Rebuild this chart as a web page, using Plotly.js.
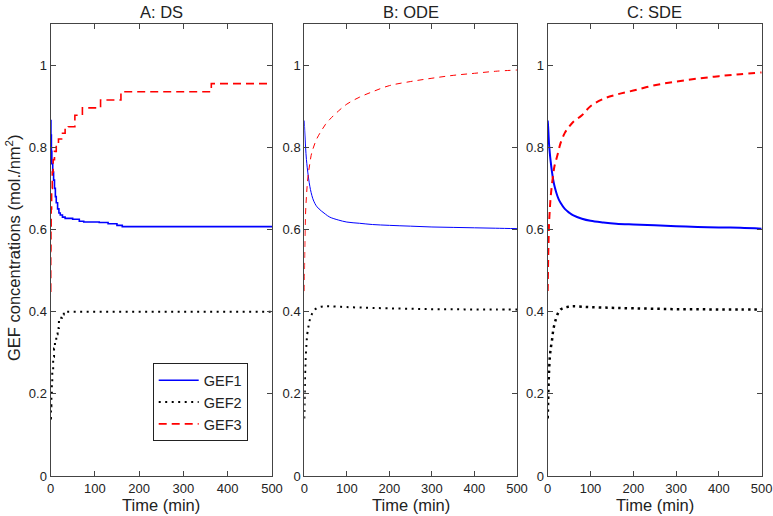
<!DOCTYPE html>
<html>
<head>
<meta charset="utf-8">
<script src="https://cdn.plot.ly/plotly-3.0.1.min.js"></script>
<style>html,body{margin:0;padding:0;background:#fff;}#chart{width:773px;height:516px;}</style>
</head>
<body>
<div id="chart"></div>
<script>
// Panel A: DS (stochastic, step-like)
var tDS1 = [0,1,2,3,5,7,9,11,13,16,19,22,27,33,50,65,75,110,130,150,162,500];
var gef1DS = [0.865,0.83,0.79,0.76,0.74,0.72,0.70,0.68,0.665,0.65,0.64,0.635,0.63,0.627,0.625,0.62,0.618,0.617,0.614,0.61,0.607,0.606];
var tDS2 = [0,1,2,3,4,6,8,10,13,16,19,22,26,30,35,500];
var gef2DS = [0.14,0.17,0.2,0.23,0.26,0.29,0.31,0.325,0.345,0.36,0.375,0.385,0.393,0.398,0.4,0.401];
var tDS3 = [0,0.5,1,1.5,2.5,4,6,9,13,18,25,33,40,55,72,113,159,363,500];
var gef3DS = [0.45,0.55,0.6,0.65,0.7,0.74,0.77,0.79,0.805,0.82,0.834,0.846,0.85,0.878,0.896,0.915,0.935,0.955,0.955];

// Panels B and C share a time grid
var tGrid = [0,1,2,3,5,7,10,13,16,20,25,30,40,50,60,80,100,130,160,200,250,300,350,400,450,500];
// Panel B: ODE
var gef1ODE = [0.865,0.84,0.82,0.80,0.77,0.75,0.725,0.705,0.69,0.675,0.663,0.655,0.645,0.637,0.63,0.623,0.618,0.615,0.612,0.61,0.608,0.606,0.605,0.604,0.603,0.602];
var gef2ODE = [0.14,0.2,0.25,0.28,0.32,0.345,0.365,0.38,0.39,0.398,0.405,0.409,0.412,0.413,0.413,0.412,0.411,0.41,0.409,0.408,0.407,0.406,0.406,0.405,0.405,0.405];
var gef3ODE = [0.45,0.54,0.6,0.64,0.68,0.71,0.74,0.76,0.78,0.795,0.81,0.822,0.84,0.856,0.868,0.888,0.905,0.922,0.935,0.95,0.96,0.968,0.975,0.98,0.985,0.988];
// Panel C: SDE
var gef1SDE = [0.865,0.85,0.83,0.81,0.785,0.765,0.74,0.72,0.705,0.69,0.675,0.665,0.65,0.641,0.634,0.626,0.621,0.617,0.614,0.612,0.61,0.608,0.606,0.605,0.604,0.602];
var gef2SDE = [0.14,0.18,0.22,0.25,0.29,0.31,0.33,0.355,0.37,0.385,0.398,0.405,0.41,0.412,0.413,0.412,0.411,0.41,0.409,0.408,0.407,0.406,0.406,0.405,0.405,0.405];
var gef3SDE = [0.45,0.52,0.57,0.61,0.65,0.68,0.71,0.735,0.755,0.77,0.79,0.81,0.835,0.85,0.862,0.878,0.9,0.918,0.928,0.938,0.951,0.96,0.967,0.973,0.978,0.982];

var panelTitles = ['A: DS','B: ODE','C: SDE'];
var seriesNames = ['GEF1','GEF2','GEF3'];
var xTicks = [0,100,200,300,400,500];
var yTicks = [0,0.2,0.4,0.6,0.8,1];

var W = 773, H = 516, plotTop = 24, plotBottom = 476;
var pan = [[50.5,272],[304.3,517],[547.7,761.7]];
var blue = '#0000ff', black = '#000000', red = '#ff0000';

function tr(x, y, name, color, dash, width, ax, legend, shape) {
  return {x: x, y: y, name: name, type: 'scatter', mode: 'lines',
    line: {color: color, dash: dash, width: width, shape: shape || 'linear'},
    xaxis: 'x' + ax, yaxis: 'y' + ax, showlegend: legend, hoverinfo: 'skip'};
}
var data = [
  tr(tDS1, gef1DS, seriesNames[0], blue, 'solid', 1.6, '', true, 'hv'),
  tr(tDS2, gef2DS, seriesNames[1], black, '2px,4.5px', 2, '', true, 'hv'),
  tr(tDS3, gef3DS, seriesNames[2], red, '8px,5px', 1.6, '', true, 'hv'),
  tr(tGrid, gef1ODE, seriesNames[0], blue, 'solid', 1, '2', false, 'spline'),
  tr(tGrid, gef2ODE, seriesNames[1], black, '2px,4.5px', 2, '2', false, 'spline'),
  tr(tGrid, gef3ODE, seriesNames[2], red, '6px,5px', 1, '2', false, 'spline'),
  tr(tGrid, gef1SDE, seriesNames[0], blue, 'solid', 2, '3', false, 'spline'),
  tr(tGrid, gef2SDE, seriesNames[1], black, '2.5px,4px', 2.5, '3', false, 'spline'),
  tr(tGrid, gef3SDE, seriesNames[2], red, '7px,5px', 2, '3', false, 'spline')
];

var fam = 'Liberation Sans, Arial, sans-serif';
var font = {family: fam, size: 13, color: '#222'};
var bigFont = {family: fam, size: 16.5, color: '#222'};
function xa(i) {
  return {domain: [pan[i][0]/W, pan[i][1]/W], range: [0,500], tickvals: xTicks,
    ticks: 'inside', ticklen: 5, tickcolor: '#444', showline: true, linecolor: '#444', linewidth: 1,
    mirror: 'ticks', showgrid: false, zeroline: false, anchor: i === 0 ? 'y' : 'y' + (i+1),
    tickfont: font, fixedrange: true};
}
function ya(i) {
  return {domain: [0,1], range: [0,1.1], tickvals: yTicks,
    ticks: 'inside', ticklen: 5, tickcolor: '#444', showline: true, linecolor: '#444', linewidth: 1,
    mirror: 'ticks', showgrid: false, zeroline: false, anchor: i === 0 ? 'x' : 'x' + (i+1),
    tickfont: font, fixedrange: true};
}
var ann = [];
for (var i = 0; i < 3; i++) {
  ann.push({text: panelTitles[i], xref: 'paper', yref: 'paper', x: (pan[i][0]+pan[i][1])/2/W,
    y: 1 + 12/(plotBottom-plotTop), xanchor: 'center', yanchor: 'middle', showarrow: false,
    font: bigFont});
  ann.push({text: 'Time (min)', xref: 'paper', yref: 'paper', x: (pan[i][0]+pan[i][1])/2/W,
    y: -29/(plotBottom-plotTop), xanchor: 'center', yanchor: 'middle', showarrow: false,
    font: bigFont});
}
ann.push({text: 'GEF concentrations (mol./nm<sup>2</sup>)', xref: 'paper', yref: 'paper',
  x: 13/W, y: (plotBottom-248)/(plotBottom-plotTop), xanchor: 'center', yanchor: 'middle', textangle: -90, showarrow: false,
  font: bigFont});

var layout = {
  width: W, height: H, margin: {l: 0, r: 0, t: plotTop, b: H - plotBottom},
  paper_bgcolor: '#fff', plot_bgcolor: '#fff', font: font,
  xaxis: xa(0), yaxis: ya(0), xaxis2: xa(1), yaxis2: ya(1), xaxis3: xa(2), yaxis3: ya(2),
  showlegend: true,
  legend: {x: 152.7/W, y: (plotBottom-363.3)/(plotBottom-plotTop), xanchor: 'left', yanchor: 'top',
    bgcolor: '#fff', bordercolor: '#222', borderwidth: 1, itemwidth: 40,
    font: {family: fam, size: 14.5, color: '#222'}, tracegroupgap: 0},
  annotations: ann
};
Plotly.newPlot('chart', data, layout, {staticPlot: true, displayModeBar: false});
</script>
</body>
</html>
